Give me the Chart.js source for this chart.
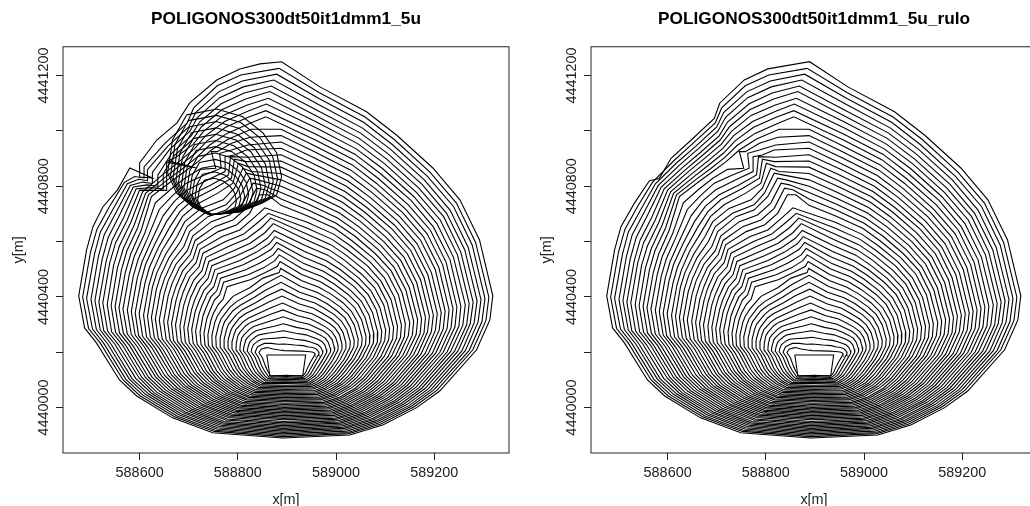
<!DOCTYPE html>
<html lang="en">
<head>
<meta charset="utf-8">
<title>POLIGONOS300dt50it1dmm1_5u</title>
<script src="https://cdn.jsdelivr.net/npm/chart.js@4/dist/chart.umd.min.js"></script>
<style>
html, body { margin: 0; padding: 0; background: #fff; overflow: hidden; width: 1030px; height: 506px; }
canvas { position: absolute; top: 0; }
</style>
</head>
<body>
<canvas id="left" style="left:0" width="572" height="506"></canvas>
<canvas id="right" style="left:528px" width="572" height="506"></canvas>
<script>
// values are metres east/north relative to these bases, x,y,x,y,...
const xBase = 588000, yBase = 4440000;
const xTicks = [588600, 588800, 589000, 589200];
const yTicks = [4440000, 4440200, 4440400, 4440600, 4440800, 4441000, 4441200];
const yLabelled = [4440000, 4440400, 4440800, 4441200];

// perimeters, outermost first: the part common to both panels, right of the apex, round the bottom, up the left side
const arcShared = [
[967,1159,1062,1069,1123,985,1197,866,1252,751,1292,606,1319,404,1313,317,1286,209,1211,60,1164,0,1095,-63,1028,-99,891,-110,749,-91,667,-37,594,42,559,100,512,234,488,288,476,404,492,570],
[966,1138,1059,1050,1119,968,1191,851,1245,739,1284,597,1311,399,1305,314,1278,208,1205,62,1159,3,1091,-59,1026,-94,891,-105,752,-86,671,-33,600,44,566,101,520,233,496,286,484,400,500,562],
[965,1117,1056,1031,1115,950,1186,836,1239,727,1277,588,1303,395,1297,311,1271,207,1199,64,1154,6,1088,-55,1024,-90,891,-100,754,-82,676,-30,606,46,572,102,527,232,504,284,492,395,508,554],
[964,1095,1053,1011,1111,933,1180,822,1232,714,1269,579,1295,390,1289,309,1263,206,1193,65,1149,8,1084,-51,1022,-85,891,-95,757,-77,680,-26,612,48,579,103,535,230,512,282,501,391,516,546],
[962,1074,1050,992,1107,915,1175,807,1225,702,1262,570,1287,386,1281,306,1256,205,1187,67,1144,11,1081,-47,1019,-80,892,-90,759,-73,685,-23,618,50,585,104,542,229,520,280,509,387,524,538],
[961,1053,1047,973,1103,898,1169,792,1219,690,1254,561,1279,381,1273,303,1248,204,1181,69,1139,14,1077,-43,1017,-75,892,-85,762,-68,689,-19,624,52,592,106,550,228,527,278,517,382,532,530],
[960,1032,1044,954,1099,881,1164,777,1212,678,1247,552,1271,376,1266,300,1241,203,1175,71,1134,17,1074,-39,1015,-71,892,-80,765,-64,693,-16,629,54,599,107,557,227,535,276,525,378,539,522],
[959,1011,1041,935,1095,863,1158,763,1205,666,1239,543,1263,372,1258,298,1233,202,1169,72,1129,20,1070,-35,1013,-66,892,-75,767,-59,698,-12,635,56,605,108,565,226,543,274,534,373,547,514],
[958,989,1039,915,1090,846,1153,748,1198,653,1232,534,1254,367,1250,295,1226,201,1163,74,1124,23,1066,-31,1011,-61,892,-70,770,-55,702,-9,641,59,612,109,572,224,551,272,542,369,555,506],
[957,968,1036,896,1086,828,1147,733,1192,641,1224,525,1246,363,1242,292,1218,200,1157,76,1119,25,1063,-27,1009,-56,892,-65,772,-50,706,-5,647,61,618,110,580,223,559,270,550,365,563,498],
[955,947,1033,877,1082,811,1141,718,1185,629,1217,516,1238,358,1234,289,1211,199,1151,78,1114,28,1059,-23,1007,-52,893,-60,775,-45,711,-2,653,63,625,111,587,222,567,268,558,360,571,490],
[954,926,1030,858,1078,794,1136,704,1178,617,1209,507,1230,353,1226,286,1203,198,1145,80,1109,31,1056,-19,1005,-47,893,-55,778,-41,715,2,659,65,632,112,595,221,575,266,566,356,579,482],
[953,905,1027,839,1074,776,1130,689,1172,605,1202,498,1222,349,1218,284,1196,197,1139,81,1104,34,1052,-15,1002,-42,893,-50,780,-36,720,5,665,67,638,113,602,220,583,264,575,352,587,474],
[952,883,1024,819,1070,759,1125,674,1165,592,1194,488,1214,344,1210,281,1188,196,1133,83,1099,37,1048,-11,1000,-38,893,-44,783,-32,724,9,671,69,645,114,610,218,591,262,583,347,595,467],
[951,862,1021,800,1066,741,1119,659,1158,580,1187,479,1206,340,1202,278,1181,195,1127,85,1094,39,1045,-7,998,-33,893,-39,785,-27,728,12,677,71,651,116,617,217,598,260,591,343,603,459],
[950,841,1018,781,1062,724,1114,645,1152,568,1179,470,1198,335,1194,275,1173,194,1121,87,1089,42,1041,-3,996,-28,893,-34,788,-23,733,16,683,73,658,117,625,216,606,258,599,339,611,451],
[948,820,1015,762,1058,707,1108,630,1145,556,1172,461,1190,331,1186,273,1166,193,1115,88,1084,45,1038,1,994,-23,894,-29,791,-18,737,19,689,75,665,118,632,215,614,256,608,334,619,443],
[947,799,1012,743,1054,689,1102,615,1138,544,1164,452,1182,326,1179,270,1158,192,1109,90,1079,48,1034,5,992,-19,894,-24,793,-13,741,23,694,77,671,119,640,214,622,254,616,330,626,435],
[946,777,1009,723,1050,672,1097,600,1132,531,1157,443,1174,321,1171,267,1151,191,1103,92,1074,51,1031,9,990,-14,894,-19,796,-9,746,27,700,79,678,120,647,212,630,252,624,326,634,427],
[945,756,1006,704,1046,654,1091,586,1125,519,1149,434,1166,317,1163,264,1143,190,1097,94,1069,54,1027,13,988,-9,894,-14,798,-4,750,30,706,81,684,121,655,211,638,250,632,321,642,419],
[944,735,1003,685,1042,637,1086,571,1118,507,1142,425,1158,312,1155,261,1136,189,1091,96,1064,56,1023,17,985,-4,894,-9,801,0,755,34,712,83,691,122,662,210,646,248,640,317,650,411],
[943,714,1000,666,1038,620,1080,556,1112,495,1134,416,1150,307,1147,259,1128,188,1085,97,1059,59,1020,21,983,0,894,-4,804,5,759,37,718,85,698,123,670,209,654,246,649,312,658,403],
[941,693,998,647,1033,602,1075,541,1105,483,1127,407,1141,303,1139,256,1121,187,1079,99,1054,62,1016,25,981,5,895,1,806,9,763,41,724,88,704,124,677,208,662,244,657,308,666,395],
[940,671,995,627,1029,585,1069,527,1098,470,1119,398,1133,298,1131,253,1113,186,1073,101,1049,65,1013,29,979,10,895,6,809,14,768,44,730,90,711,126,685,206,669,242,665,304,674,387],
[939,650,992,608,1025,567,1064,512,1091,458,1112,389,1125,294,1123,250,1106,185,1067,103,1044,68,1009,33,977,15,895,11,811,18,772,48,736,92,717,127,692,205,677,240,673,299,682,379],
[938,629,989,589,1021,550,1058,497,1085,446,1104,380,1117,289,1115,247,1098,185,1061,105,1039,70,1006,37,975,19,895,16,814,23,777,51,742,94,724,128,700,204,685,238,682,295,690,371],
[937,608,986,570,1017,533,1052,482,1078,434,1097,371,1109,284,1107,245,1091,184,1055,106,1033,73,1002,42,973,24,895,21,817,28,781,55,748,96,731,129,707,203,693,236,690,291,698,363],
[936,587,983,551,1013,515,1047,467,1071,422,1089,362,1101,280,1099,242,1083,183,1049,108,1028,76,998,46,970,29,895,26,819,32,785,58,754,98,737,130,715,202,701,234,698,286,706,355],
[935,565,980,531,1009,498,1041,453,1065,409,1082,353,1093,275,1091,239,1076,182,1043,110,1023,79,995,50,968,33,895,31,822,37,790,62,759,100,744,131,722,200,709,232,706,282,713,347],
[933,544,977,512,1005,480,1036,438,1058,397,1074,344,1085,271,1084,236,1068,181,1037,112,1018,82,991,54,966,38,896,36,824,41,794,65,765,102,750,132,730,199,717,230,714,278,721,339],
[932,523,974,493,1001,463,1030,423,1051,385,1067,335,1077,266,1076,234,1061,180,1031,113,1013,85,988,58,964,43,896,41,827,46,798,69,771,104,757,133,737,198,725,228,723,273,729,331],
[931,502,971,474,997,446,1025,408,1045,373,1059,326,1069,261,1068,231,1053,179,1025,115,1008,87,984,62,962,48,896,46,830,50,803,72,777,106,764,134,745,197,733,226,731,269,737,323],
[930,481,968,455,993,428,1019,394,1038,361,1052,317,1061,257,1060,228,1046,178,1019,117,1003,90,980,66,960,52,896,51,832,55,807,76,783,108,770,136,752,196,740,224,739,264,745,315],
[929,459,965,435,989,411,1014,379,1031,348,1044,308,1053,252,1052,225,1038,177,1013,119,998,93,977,70,958,57,896,56,835,59,812,79,789,110,777,137,760,194,748,222,747,260,753,307],
[928,438,962,416,985,393,1008,364,1025,336,1037,299,1045,248,1044,222,1031,176,1007,121,993,96,973,74,956,62,896,61,837,64,816,83,795,112,783,138,767,193,756,220,755,256,761,299],
[926,417,959,397,981,376,1002,349,1018,324,1029,290,1037,243,1036,220,1023,175,1001,122,988,99,970,78,953,67,897,66,840,69,820,87,801,114,790,139,775,192,764,218,764,251,769,291],
[925,396,957,378,976,359,997,335,1011,312,1022,281,1029,238,1028,217,1016,174,995,124,983,102,966,82,951,71,897,71,843,73,825,90,807,116,797,140,782,191,772,216,772,247,777,283],
[924,375,954,359,972,341,991,320,1004,300,1014,272,1020,234,1020,214,1008,173,989,126,978,104,963,86,949,76,897,76,845,78,829,94,813,119,803,141,790,190,780,214,780,243,785,275],
[923,353,951,339,968,324,986,305,998,287,1007,263,1012,229,1012,211,1001,172,983,128,973,107,959,90,947,81,897,81,848,82,833,97,819,121,810,142,797,188,788,212,788,238,793,268],
[922,332,948,320,964,306,980,290,991,275,999,254,1004,225,1004,209,993,171,977,129,968,110,955,94,945,85,897,87,850,87,838,100,824,123,816,143,805,187,796,210,797,234,800,260],
[921,311,945,301,960,289,975,276,984,263,992,245,996,220,997,206,986,170,971,131,963,113,952,98,943,90,897,92,853,91,842,104,830,125,823,144,812,186,804,208,805,230,808,252],
[919,290,942,282,956,272,969,261,978,251,984,236,988,215,989,203,978,169,965,133,958,116,948,102,941,95,898,97,856,96,847,108,836,127,830,146,820,185,811,206,813,225,816,244],
[918,269,939,263,952,254,964,246,971,239,977,227,980,211,981,200,971,168,959,135,953,118,945,106,939,100,898,102,858,100,851,111,842,129,836,147,827,184,819,204,821,221,824,236],
[917,247,936,243,948,237,958,231,964,226,969,217,972,206,973,197,963,167,953,137,948,121,941,110,936,104,898,107,861,105,855,115,848,131,843,148,835,182,827,202,829,217,832,228],
[916,226,933,224,944,219,952,217,958,214,962,208,964,202,965,195,956,166,947,138,943,124,937,114,934,109,898,112,863,110,860,118,854,133,849,149,842,181,835,200,838,212,840,220],
[915,205,930,204,940,203,947,202,951,201,954,199,956,197,957,192,948,165,941,140,938,127,934,118,932,114,898,117,866,114,864,122,860,135,856,150,850,180,843,198,846,208,848,212]
];

// upper-left part of each perimeter up to the apex, with the notch of the cleaned run
const arcFlank = [
[505,654,532,738,563,820,583,828,607,901,648,967,695,1045,706,1100,756,1184,804,1224,889,1250],
[513,644,539,728,569,814,613,893,652,956,697,1029,710,1083,758,1163,806,1202,884,1226],
[520,634,546,718,575,809,618,884,657,944,700,1014,714,1066,761,1141,809,1180,879,1205],
[528,625,553,709,581,803,624,876,661,933,702,998,718,1049,763,1120,811,1159,873,1184],
[536,615,560,699,587,797,630,867,666,921,705,982,722,1032,766,1098,813,1137,868,1162],
[544,605,568,689,593,791,636,859,670,910,707,967,726,1015,768,1077,816,1115,865,1142],
[551,595,575,679,600,786,641,851,674,899,709,951,730,998,770,1056,818,1093,862,1118],
[559,585,582,669,606,780,647,842,679,887,712,936,734,982,773,1034,820,1071,858,1097],
[567,576,589,660,612,774,653,834,683,876,714,920,738,965,775,1013,822,1050,857,1073],
[574,566,596,650,618,769,658,825,688,864,717,905,742,948,778,991,825,1028,857,1051],
[582,556,603,640,624,763,664,817,692,853,719,889,746,931,780,970,827,1006,888,1006],
[589,546,610,628,632,740,664,790,692,829,722,861,755,865,746,925,758,925,787,955,825,977,888,983],
[597,536,617,616,640,716,668,768,695,811,732,841,766,865,763,919,787,931,820,949,888,960],
[605,527,624,603,648,694,672,748,698,787,739,823,774,853,774,907,793,913,817,931,888,937],
[612,517,631,591,655,673,677,728,705,769,746,805,781,841,785,907,820,905,888,914],
[620,507,638,578,662,654,682,708,708,751,753,793,787,829,793,898,817,889,888,891],
[628,497,645,566,669,636,687,690,715,733,759,775,790,811,801,883,820,871,888,869],
[635,487,653,554,676,618,692,672,725,720,770,751,793,793,810,865,827,853,888,846],
[643,478,660,542,683,600,697,654,732,702,776,733,797,775,817,847,834,841,888,823],
[651,468,667,530,690,582,702,636,739,690,776,714,804,763,824,829,841,823,888,800],
[658,458,674,518,697,567,708,620,746,672,783,696,810,739,831,811,848,805,888,777],
[666,448,681,506,703,553,713,604,753,654,790,678,817,720,838,793,855,787,888,754],
[674,438,688,495,709,538,718,588,760,636,797,660,824,702,844,769,861,769,888,731],
[681,429,695,484,715,524,723,572,768,618,804,642,832,685,855,722],
[689,419,702,472,721,509,729,558,775,600,811,626,840,668,862,702],
[697,409,710,460,727,495,735,543,782,583,818,610,848,650,867,685],
[704,399,717,448,733,480,741,528,790,566,825,594,855,632,872,665],
[712,389,724,436,739,466,747,513,797,549,832,578,860,612,874,640],
[720,380,731,424,745,451,753,498,804,532,838,562,864,592,876,618],
[727,370,738,412,751,437,759,483,811,516,844,546,868,572,879,597],
[735,360,745,400,757,422,765,468,816,498,848,525,872,552,882,575],
[743,350,752,388,763,408,771,453,821,480,852,505,876,532,884,552],
[750,340,760,372,770,392,778,437,825,462,855,487,880,510,886,528],
[758,330,767,355,777,376,790,402,825,434,851,468,884,488,887,503],
[766,321,784,363,798,384,829,416,854,446,888,478],
[773,311,790,350,804,369,833,398,856,424,888,453],
[781,301,797,336,809,354,836,379,859,403,889,428],
[789,291,803,323,815,339,840,361,862,381,890,403],
[796,282,810,309,821,323,844,342,865,359,891,378],
[804,272,816,296,826,308,848,324,868,338,892,353],
[812,262,823,282,832,293,852,305,871,316,892,328],
[819,252,829,269,837,278,856,287,874,294,893,303],
[827,242,836,256,843,263,860,269,877,273,893,278],
[835,232,842,242,849,247,864,250,879,251,894,254],
[842,222,849,228,854,232,868,232,882,229,895,230],
[850,213,855,215,860,217,872,212,885,208,895,206]
];

// first perimeters of the raw run: broken at the spike, replaces arcFlank rows
const arcFlankRaw = [
[505,654,525,725,555,787,580,866,626,830,600,833,600,884,635,967,676,1029,702,1101,757,1184,804,1224,845,1242,889,1250],
[513,644,539,728,569,814,590,835,609,830,609,870,652,956,697,1029,710,1083,758,1163,806,1202,884,1226],
[520,634,546,718,575,809,598,825,616,820,616,860,657,944,700,1014,714,1066,761,1141,809,1180,879,1205],
[528,625,553,709,581,803,606,815,626,810,626,850,661,933,702,998,718,1049,763,1120,811,1159,873,1184],
[536,615,560,699,587,797,615,805,637,800,637,840,666,921,705,982,722,1032,766,1098,813,1137,868,1162],
[544,605,568,689,593,791,625,795,648,790,648,845,670,910,707,967,726,1015,768,1077,816,1115,865,1142],
[551,595,575,679,600,786,635,785,655,785,655,887,716,866,658,892,674,905,709,951,730,998,770,1056,818,1093,862,1118]
];

// the self-crossing loop that only the raw run keeps
const ruloLoops = [
[696,1058,757,1079,810,1051,851,993,879,920,889,834,879,769,851,740,804,707,743,696,708,725,675,776,657,848,667,967,696,1058],
[699,1037,757,1056,806,1030,845,975,871,907,881,826,871,765,845,738,801,707,743,696,711,724,680,771,663,839,672,951,699,1037],
[702,1015,756,1034,803,1009,839,958,864,894,872,818,864,761,839,735,798,706,744,696,713,722,684,767,668,830,677,935,702,1015],
[706,994,756,1011,799,988,833,940,856,880,864,810,856,757,833,733,794,706,744,697,716,721,688,762,674,821,682,919,706,994],
[709,972,755,988,796,967,827,923,848,867,856,802,848,752,827,730,791,705,745,697,718,719,693,758,679,812,687,903,709,972],
[712,951,755,965,792,946,821,905,840,854,847,794,840,748,821,728,788,705,745,697,721,718,697,753,685,804,692,887,712,951],
[715,929,754,943,788,925,815,888,833,841,839,786,833,744,815,726,785,704,746,697,723,716,702,749,690,795,697,871,715,929],
[719,908,754,920,785,904,809,870,825,828,831,778,825,740,809,723,781,704,746,698,726,715,706,744,696,786,702,855,719,908],
[722,886,754,897,781,883,803,852,817,814,822,770,817,736,803,721,778,704,746,698,728,713,711,740,702,777,707,839,722,886],
[725,865,753,874,778,861,796,835,809,801,814,762,809,732,796,718,775,703,747,698,731,712,715,735,707,768,712,823,725,865],
[728,843,753,852,774,840,790,817,802,788,806,754,802,728,790,716,772,703,747,698,733,710,720,730,713,759,717,807,728,843],
[732,822,752,829,770,819,784,800,794,775,797,746,794,723,784,714,768,702,748,699,736,709,724,726,718,750,722,791,732,822]
];

const hole = [859,190,938,190,932,115,865,115,859,190];

function toPoints(a) {
  const pts = [];
  for (let i = 0; i < a.length; i += 2) pts.push({x: a[i] + xBase, y: a[i + 1] + yBase});
  return pts;
}
function perimeters(flankOf) {
  return arcShared.map((a, k) => a.concat(flankOf(k), a.slice(0, 2)));
}
const frame = {
  id: 'frame',
  afterDraw(c) {
    const a = c.chartArea, g = c.ctx;
    g.save(); g.strokeStyle = '#222'; g.lineWidth = 1;
    g.strokeRect(a.left, a.top, a.right - a.left, a.bottom - a.top);
    g.restore();
  }
};
const face = 'Liberation Sans';
function mk(id, title, lines) {
  return new Chart(document.getElementById(id), {
    type: 'scatter',
    data: {datasets: lines.map(l => ({data: toPoints(l), showLine: true, pointRadius: 0, borderColor: '#000', borderWidth: 1.1, tension: 0}))},
    plugins: [frame],
    options: {
      responsive: false, animation: false,
      layout: {padding: 0},
      plugins: {
        legend: {display: false}, tooltip: {enabled: false},
        title: {display: true, text: title, color: '#000', font: {family: face, size: 17.3, weight: 'bold'}, padding: {top: 9, bottom: 17}}
      },
      scales: {
        x: {
          type: 'linear', min: 588444, max: 589352,
          afterBuildTicks: s => { s.ticks = xTicks.map(v => ({value: v})); },
          afterFit: s => { s.height = 53; },
          ticks: {color: '#222', font: {family: face, size: 14.4}, padding: 4, maxRotation: 0, callback: v => String(v)},
          grid: {drawOnChartArea: false, tickLength: 7, color: '#222'},
          border: {display: false},
          title: {display: true, text: 'x[m]', color: '#222', font: {family: face, size: 14.4}, padding: {top: 4, bottom: -3}}
        },
        y: {
          type: 'linear', min: 4439836, max: 4441304,
          afterBuildTicks: s => { s.ticks = yTicks.map(v => ({value: v})); },
          afterFit: s => { s.width = 63; },
          ticks: {color: '#222', font: {family: face, size: 14.4}, padding: -16, minRotation: 90, maxRotation: 90, crossAlign: 'center', autoSkip: false,
            callback: v => yLabelled.includes(v) ? String(v) : ''},
          grid: {drawOnChartArea: false, tickLength: 7, color: '#222'},
          border: {display: false},
          title: {display: true, text: 'y[m]', color: '#222', font: {family: face, size: 14.4}, padding: {top: 10, bottom: 0}}
        },
        // empty right margin so the title centres over the plot
        margin: {
          axis: 'y', position: 'right', min: 4439836, max: 4441304,
          afterFit: s => { s.width = 63; },
          ticks: {display: false}, grid: {display: false}, border: {display: false}
        }
      }
    }
  });
}
mk('left', 'POLIGONOS300dt50it1dmm1_5u',
   perimeters(k => arcFlankRaw[k] || arcFlank[k]).concat([hole], ruloLoops));
mk('right', 'POLIGONOS300dt50it1dmm1_5u_rulo',
   perimeters(k => arcFlank[k]).concat([hole]));
</script>
</body>
</html>
